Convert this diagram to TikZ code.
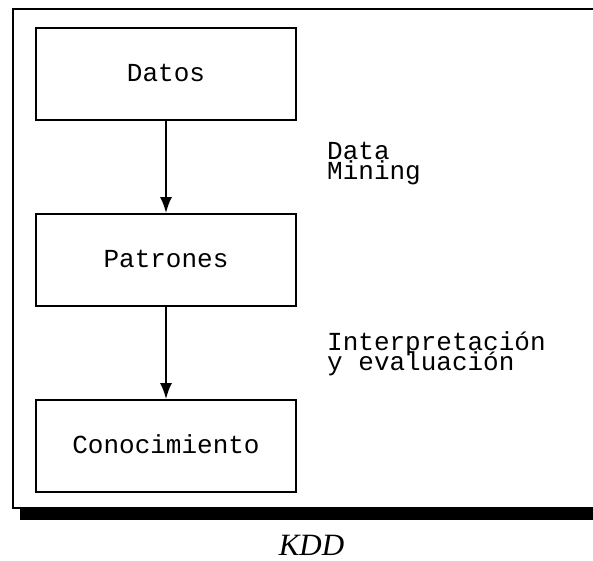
\documentclass[tikz,border=0pt]{standalone}
\usepackage{fontspec}
\setmonofont{Liberation Mono}
\newfontfamily\kddfont{Liberation Serif}
\usetikzlibrary{arrows.meta}
\setlength{\lineskiplimit}{-50pt}
\tikzset{
  stepbox/.style={draw=black, line width=1.9pt, minimum width=260pt, minimum height=92pt,
    inner sep=0pt, font=\ttfamily\fontsize{26}{20}\selectfont},
  arr/.style={draw=black, line width=1.8pt, -{Latex[length=16pt,width=12pt]}},
  sidelabel/.style={anchor=north west, inner sep=0pt, align=left,
    font=\ttfamily\fontsize{26}{20}\selectfont},
  frameline/.style={draw=black, line width=2pt}
}
\begin{document}
\begin{tikzpicture}[x=1pt,y=-1pt]
\useasboundingbox (0,0) rectangle (593,560);
\fill[white] (0,0) rectangle (593,560);
% outer frame (open on the right, runs off the picture)
\begin{scope}
\clip (0,0) rectangle (593,560);
\draw[frameline] (600,8.5) -- (13,8.5) -- (13,508) -- (600,508);
\fill[black] (20,509) rectangle (600,519.5);
\end{scope}
% boxes
\node[stepbox] (datos) at (166,74) {\raisebox{3pt}{Datos}};
\node[stepbox] (patrones) at (166,260) {\raisebox{3pt}{Patrones}};
\node[stepbox] (conoc) at (166,446) {\raisebox{3pt}{Conocimiento}};
% connectors
\draw[arr] (datos.south) -- (patrones.north);
\draw[arr] (patrones.south) -- (conoc.north);
% side labels
\node[sidelabel] (dm) at (327,142) {Data\\Mining};
\node[sidelabel] (ie) at (327,331) {Interpretación\\y evaluación};
% caption
\node[anchor=base, inner sep=0pt, font=\kddfont\itshape\fontsize{31}{31}\selectfont] (kdd) at (311.5,555) {KDD};
\end{tikzpicture}
\end{document}
